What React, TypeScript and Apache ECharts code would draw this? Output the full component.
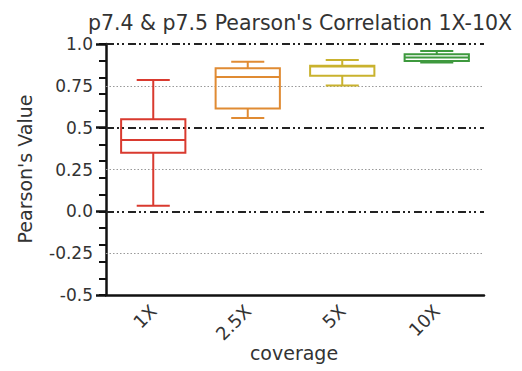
import React, { useEffect, useRef } from "react";
import * as echarts from "echarts";

const categories = ["1X", "2.5X", "5X", "10X"];
const mins = [0.033, 0.558, 0.752, 0.89];
const q1s = [0.35, 0.614, 0.81, 0.898];
const medians = [0.426, 0.803, 0.866, 0.92];
const q3s = [0.55, 0.855, 0.87, 0.938];
const maxs = [0.785, 0.894, 0.904, 0.958];
const boxColors = ["#d93a2f", "#e08b33", "#c9b22e", "#3e993e"];
const yTickValues = [1.0, 0.75, 0.5, 0.25, 0.0, -0.25, -0.5];
const yTickLabels = ["1.0", "0.75", "0.5", "0.25", "0.0", "-0.25", "-0.5"];
const dashDotLines = [1.0, 0.5, 0.0];
const dottedLines = [0.75, 0.25, -0.25];

const FONT = "DejaVu Sans";

export default function App() {
  const ref = useRef<HTMLDivElement>(null);
  useEffect(() => {
    if (!ref.current) return;
    document.body.style.margin = "0";
    const chart = echarts.init(ref.current, undefined, { renderer: "svg" });
    const data = categories.map((c, i) => [i, mins[i], q1s[i], medians[i], q3s[i], maxs[i]]);
    const labelFor = (v: number) => {
      const idx = yTickValues.findIndex((t) => Math.abs(t - v) < 1e-6);
      return idx >= 0 ? yTickLabels[idx] : "";
    };
    const baseY = { type: "value", min: -0.5, max: 1.0, position: "left", offset: 0 } as any;
    chart.setOption({
      animation: false,
      title: {
        text: "p7.4 & p7.5 Pearson's Correlation 1X-10X",
        left: 295,
        top: 7,
        textAlign: "center",
        textStyle: { fontFamily: FONT, fontSize: 20.5, fontWeight: "normal", color: "#333" },
      },
      grid: { left: 106, right: 38, top: 44, bottom: 76 },
      xAxis: {
        type: "category",
        data: categories,
        boundaryGap: true,
        axisLine: { onZero: false, lineStyle: { color: "#111", width: 2.5 } },
        axisTick: { alignWithLabel: true, length: 8, lineStyle: { color: "#111", width: 2.5 } },
        axisLabel: { rotate: 45, margin: 13, fontFamily: FONT, fontSize: 18, color: "#333" },
        splitLine: { show: false },
      },
      yAxis: [
        {
          ...baseY,
          interval: 0.25,
          axisLine: { show: true, lineStyle: { color: "#111", width: 2.5 } },
          axisTick: { show: false },
          axisLabel: { margin: 13, fontFamily: FONT, fontSize: 17, color: "#333", formatter: (v: number) => labelFor(v) },
          splitLine: { show: false },
        },
        {
          ...baseY,
          interval: 0.1,
          axisLine: { show: false },
          axisTick: { show: true, length: 7, lineStyle: { color: "#111", width: 2 } },
          axisLabel: { show: false },
          splitLine: { show: false },
        },
        {
          ...baseY,
          interval: 0.5,
          axisLine: { show: false },
          axisTick: { show: true, length: 10, lineStyle: { color: "#111", width: 2.5 } },
          axisLabel: { show: false },
          splitLine: { show: false },
        },
      ],
      graphic: [
        {
          type: "text",
          x: 25,
          y: 169,
          rotation: Math.PI / 2,
          style: { text: "Pearson's Value", font: `19px '${FONT}'`, fill: "#333", textAlign: "center", textVerticalAlign: "middle" },
        },
        {
          type: "text",
          x: 294,
          y: 353,
          style: { text: "coverage", font: `19px '${FONT}'`, fill: "#333", textAlign: "center", textVerticalAlign: "middle" },
        },
      ],
      series: [
        {
          type: "custom",
          xAxisIndex: 0,
          yAxisIndex: 0,
          encode: { x: 0, y: [1, 2, 3, 4, 5] },
          data,
          z: 3,
          renderItem: (params: any, api: any) => {
            const i = api.value(0);
            const color = boxColors[i];
            const band = api.size([1, 0])[0];
            const half = band * 0.34;
            const capHalf = band * 0.175;
            const pMin = api.coord([i, api.value(1)]);
            const pQ1 = api.coord([i, api.value(2)]);
            const pMed = api.coord([i, api.value(3)]);
            const pQ3 = api.coord([i, api.value(4)]);
            const pMax = api.coord([i, api.value(5)]);
            const x = pMed[0];
            const st = { stroke: color, lineWidth: 2, fill: null };
            const line = (x1: number, y1: number, x2: number, y2: number) => ({
              type: "line",
              shape: { x1, y1, x2, y2 },
              style: st,
            });
            return {
              type: "group",
              children: [
                {
                  type: "rect",
                  shape: { x: x - half, y: pQ3[1], width: half * 2, height: pQ1[1] - pQ3[1] },
                  style: { stroke: color, lineWidth: 2, fill: "rgba(0,0,0,0)" },
                },
                line(x - half, pMed[1], x + half, pMed[1]),
                line(x, pQ3[1], x, pMax[1]),
                line(x, pQ1[1], x, pMin[1]),
                line(x - capHalf, pMax[1], x + capHalf, pMax[1]),
                line(x - capHalf, pMin[1], x + capHalf, pMin[1]),
              ],
            };
          },
          markLine: {
            silent: true,
            symbol: "none",
            animation: false,
            label: { show: false },
            z: 2,
            data: [
              ...dashDotLines.map((v) => ({
                yAxis: v,
                lineStyle: { color: "#222", width: 2, type: [8, 3, 2, 3, 2, 4] },
              })),
              ...dottedLines.map((v) => ({
                yAxis: v,
                lineStyle: { color: "#999", width: 1, type: [1.5, 2] },
              })),
            ],
          },
        },
      ],
    });
    return () => chart.dispose();
  }, []);
  return <div ref={ref} style={{ width: 522, height: 371 }} />;
}
